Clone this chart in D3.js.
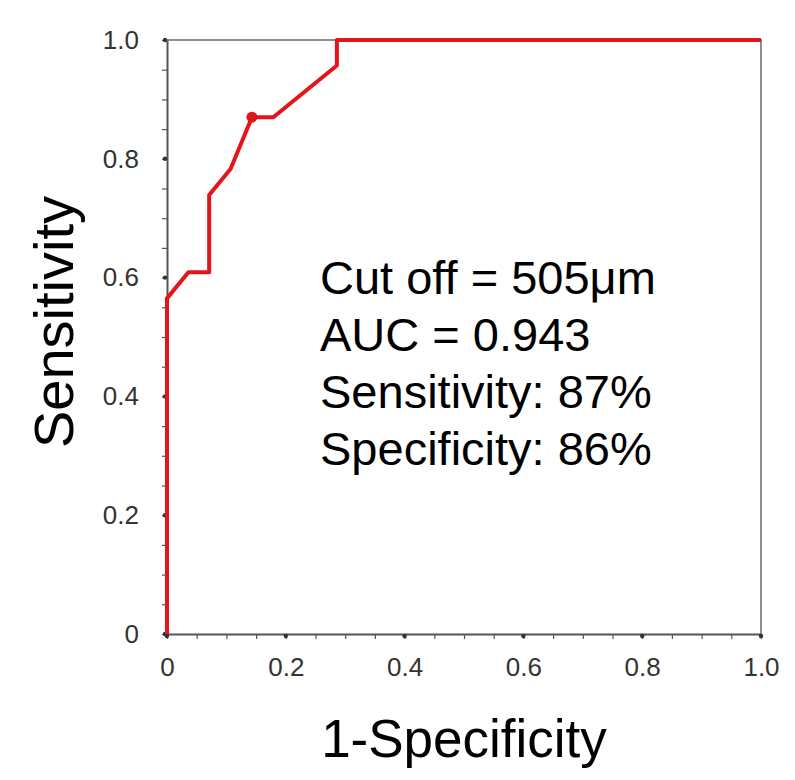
<!DOCTYPE html>
<html>
<head>
<meta charset="utf-8">
<script src="https://cdn.jsdelivr.net/npm/d3@7"></script>
<style>
	body { margin: 0; background: #fff; }
	svg { display: block; font-family: "Liberation Sans", Arial, sans-serif; }
</style>
</head>
<body>
<div id="chart"></div>
<script>
// ROC curve points (1-specificity, sensitivity)
var fpr = [0, 0, 0.036, 0.071, 0.071, 0.107, 0.143, 0.179, 0.286, 0.286, 1.0];
var tpr = [0, 0.565, 0.609, 0.609, 0.739, 0.783, 0.870, 0.870, 0.957, 1.0, 1.0];

// chosen cut off point
var cutoff_x = [0.143];
var cutoff_y = [0.870];

var x_ticks = [0, 0.2, 0.4, 0.6, 0.8, 1.0];
var x_tick_labels = ['0', '0.2', '0.4', '0.6', '0.8', '1.0'];
var y_ticks = [0, 0.2, 0.4, 0.6, 0.8, 1.0];
var y_tick_labels = ['0', '0.2', '0.4', '0.6', '0.8', '1.0'];
var minor_ticks = d3.range(0, 21).map(function(i) { return i/20; });

var notes = ['Cut off = 505\u03bcm', 'AUC = 0.943', 'Sensitivity: 87%', 'Specificity: 86%'];

chart = {
	width: 795,
	height: 780,
	left: 167,
	top: 40,
	size: 594,

	init: function(panel) {
		var svg = panel.append('svg')
			.attr('width', this.width)
			.attr('height', this.height);

		var x = d3.scaleLinear().domain([0, 1]).range([this.left, this.left + this.size]);
		var y = d3.scaleLinear().domain([0, 1]).range([this.top + this.size, this.top]);

		// frame on top and right
		svg.append('path')
			.attr('d', 'M' + x(0) + ',' + y(1) + 'H' + x(1) + 'V' + y(0))
			.attr('fill', 'none')
			.attr('stroke', '#6a6a6a')
			.attr('stroke-width', 1.5);

		// minor ticks
		var xMinor = svg.append('g')
			.attr('transform', 'translate(0,' + y(0) + ')')
			.call(d3.axisBottom(x).tickValues(minor_ticks).tickSize(5).tickFormat(''));
		var yMinor = svg.append('g')
			.attr('transform', 'translate(' + x(0) + ',0)')
			.call(d3.axisLeft(y).tickValues(minor_ticks).tickSize(5).tickFormat(''));
		[xMinor, yMinor].forEach(function(g) {
			g.select('.domain').remove();
			g.selectAll('line').attr('stroke', '#555').attr('stroke-width', 1.2);
		});

		// major axes with labels
		var xAxis = svg.append('g')
			.attr('transform', 'translate(0,' + y(0) + ')')
			.call(d3.axisBottom(x).tickValues(x_ticks).tickSize(0).tickPadding(24)
				.tickFormat(function(d, i) { return x_tick_labels[i]; }));
		var yAxis = svg.append('g')
			.attr('transform', 'translate(' + x(0) + ',0)')
			.call(d3.axisLeft(y).tickValues(y_ticks).tickSize(0).tickPadding(28)
				.tickFormat(function(d, i) { return y_tick_labels[i]; }));
		[xAxis, yAxis].forEach(function(g) {
			g.select('.domain').attr('stroke', '#555').attr('stroke-width', 2);
			g.selectAll('text')
				.attr('fill', '#333')
				.style('font-size', '26px')
				.style('font-family', '"Liberation Sans", Arial, sans-serif');
		});

		// dots at major ticks
		svg.selectAll('.x-major').data(x_ticks)
			.enter().append('circle')
				.attr('r', 2.2)
				.attr('cx', function(d) { return x(d); })
				.attr('cy', y(0) + 2)
				.attr('fill', '#333');
		svg.selectAll('.y-major').data(y_ticks)
			.enter().append('circle')
				.attr('r', 2.2)
				.attr('cx', x(0) - 2)
				.attr('cy', function(d) { return y(d); })
				.attr('fill', '#333');

		// ROC curve
		var points = fpr.map(function(d, i) { return [d, tpr[i]]; });
		svg.append('path')
			.datum(points)
			.attr('d', d3.line().x(function(d) { return x(d[0]); }).y(function(d) { return y(d[1]); }))
			.attr('fill', 'none')
			.attr('stroke', '#e3141c')
			.attr('stroke-width', 4)
			.attr('stroke-linejoin', 'round');

		svg.selectAll('.cutoff').data(cutoff_x)
			.enter().append('circle')
				.attr('r', 5.5)
				.attr('cx', function(d) { return x(d); })
				.attr('cy', function(d, i) { return y(cutoff_y[i]); })
				.attr('fill', '#e3141c');

		// annotation
		svg.selectAll('.note').data(notes)
			.enter().append('text')
				.attr('x', 320)
				.attr('y', function(d, i) { return 294 + i*57; })
				.style('font-size', '47px')
				.attr('fill', '#000')
				.text(function(d) { return d; });

		// axis titles
		svg.append('text')
			.attr('x', x(0.5))
			.attr('y', 757)
			.attr('text-anchor', 'middle')
			.style('font-size', '53px')
			.text('1-Specificity');

		svg.append('text')
			.attr('transform', 'translate(73,322) rotate(-90)')
			.attr('text-anchor', 'middle')
			.style('font-size', '56px')
			.text('Sensitivity');
	}
}

window.onload = function() {
	chart.init(d3.select('#chart'));
}
</script>
</body>
</html>
